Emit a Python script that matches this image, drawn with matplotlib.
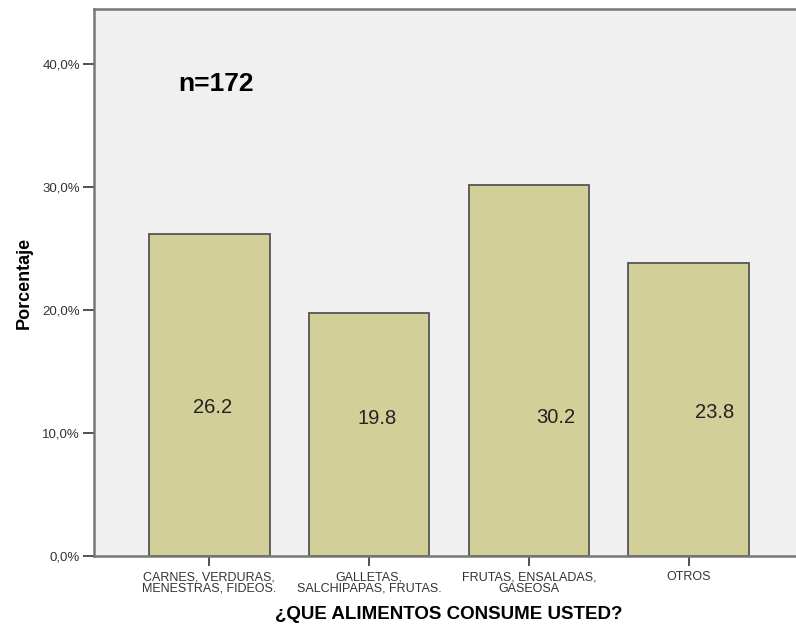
import matplotlib
matplotlib.use("Agg")
import matplotlib.pyplot as plt
from matplotlib.ticker import FuncFormatter

plt.rcParams['font.family'] = ['Liberation Sans', 'DejaVu Sans']

categories = ["CARNES, VERDURAS,\nMENESTRAS, FIDEOS.",
              "GALLETAS,\nSALCHIPAPAS, FRUTAS.",
              "FRUTAS, ENSALADAS,\nGASEOSA",
              "OTROS"]
values = [26.2, 19.8, 30.2, 23.8]
value_labels = ["26.2", "19.8", "30.2", "23.8"]
label_x = [0.02, 1.05, 2.17, 3.16]
label_y = [12.1, 11.2, 11.3, 11.7]
yticks = [0, 10, 20, 30, 40]

fig = plt.figure(figsize=(7.96, 6.30), dpi=100)
fig.patch.set_facecolor('white')
ax = fig.add_axes([94/796, 74/630, 710/796, 547/630])
ax.set_facecolor('#F0F0F0')

x = list(range(len(categories)))
ax.bar(x, values, width=0.756, color='#D3CF98', edgecolor='#555555', linewidth=1.3, zorder=2)

for xi, yi, t in zip(label_x, label_y, value_labels):
    ax.text(xi, yi, t, ha='center', va='center', fontsize=14.5, color='#222222', zorder=3)

ax.text(0.04, 38.4, "n=172", ha='center', va='center', fontsize=19, fontweight='bold', color='black')

ax.set_xlim(-0.72, 3.72)
ax.set_ylim(0, 44.5)
ax.set_xticks(x)
ax.set_xticklabels(categories, fontsize=9, color='#333333', linespacing=0.95)
ax.set_yticks(yticks)
ax.yaxis.set_major_formatter(FuncFormatter(lambda v, p: f"{v:.1f}%".replace('.', ',')))
ax.tick_params(axis='y', labelsize=9.5, colors='#333333', length=8, width=1.2, pad=2, direction='out')
ax.tick_params(axis='x', length=7, width=1.2, pad=4, colors='#333333')

for s in ['left', 'bottom', 'top']:
    ax.spines[s].set_color('#777777')
    ax.spines[s].set_linewidth(1.8)
ax.spines['right'].set_visible(False)

ax.set_ylabel("Porcentaje", fontsize=13, fontweight='bold', labelpad=7)
ax.set_xlabel("¿QUE ALIMENTOS CONSUME USTED?", fontsize=13.5, fontweight='bold', labelpad=8)

fig.savefig("out.png", dpi=100, facecolor='white')
